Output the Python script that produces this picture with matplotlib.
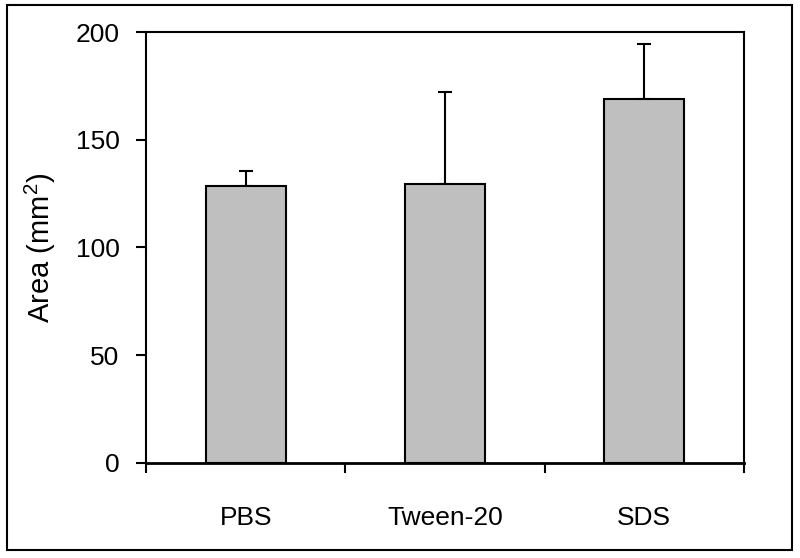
import matplotlib
matplotlib.use("Agg")
import matplotlib.pyplot as plt
from matplotlib.patches import Rectangle
import numpy as np

plt.rcParams['font.family'] = ['Liberation Sans', 'DejaVu Sans']
plt.rcParams['mathtext.fontset'] = 'custom'
plt.rcParams['mathtext.rm'] = 'Liberation Sans'

# data
groups = ['PBS', 'Tween-20', 'SDS']
area_mean = [128.5, 129.5, 169.0]
area_err = [7.0, 42.5, 25.5]
y_ticks = [0, 50, 100, 150, 200]

W, H = 800, 558
fig = plt.figure(figsize=(W / 100, H / 100), dpi=100)
ax = fig.add_axes([146 / W, 1 - 463 / H, (744 - 146) / W, (463 - 32) / H])

x = np.arange(len(groups))
ax.bar(x, area_mean, width=0.4, color='#bfbfbf', edgecolor='black', linewidth=1.5, zorder=2)
ax.errorbar(x, area_mean, yerr=[np.zeros(len(groups)), area_err], fmt='none',
            ecolor='black', elinewidth=1.5, capsize=4.8, capthick=1.5, zorder=1)

ax.set_xlim(-0.5, len(groups) - 0.5)
ax.set_ylim(0, 200)
ax.set_yticks(y_ticks)
ax.set_yticklabels([str(v) for v in y_ticks], fontsize=19)

# category ticks sit on the boundaries, labels in the middle
ax.set_xticks(np.arange(len(groups) + 1) - 0.5)
ax.set_xticklabels([])
ax.set_xticks(x, minor=True)
ax.set_xticklabels(groups, minor=True, fontsize=19)
ax.tick_params(axis='x', which='minor', length=0, pad=31)
ax.tick_params(axis='x', which='major', direction='out', length=7, width=1.5)
ax.tick_params(axis='y', direction='out', length=7, width=1.5, pad=12)

for s in ax.spines.values():
    s.set_linewidth(1.5)
ax.spines['bottom'].set_linewidth(2)

ax.set_ylabel('Area (mm$\\mathrm{^2}$)', fontsize=21)
ax.yaxis.set_label_coords((58 - 146) / (744 - 146), 0.5)

# frame around whole chart
fig.patches.append(Rectangle((7 / W, 1 - 550 / H), (792 - 7) / W, (550 - 5) / H,
                             transform=fig.transFigure, fill=False,
                             edgecolor='black', linewidth=1.5))

fig.savefig('out.png', dpi=100)
